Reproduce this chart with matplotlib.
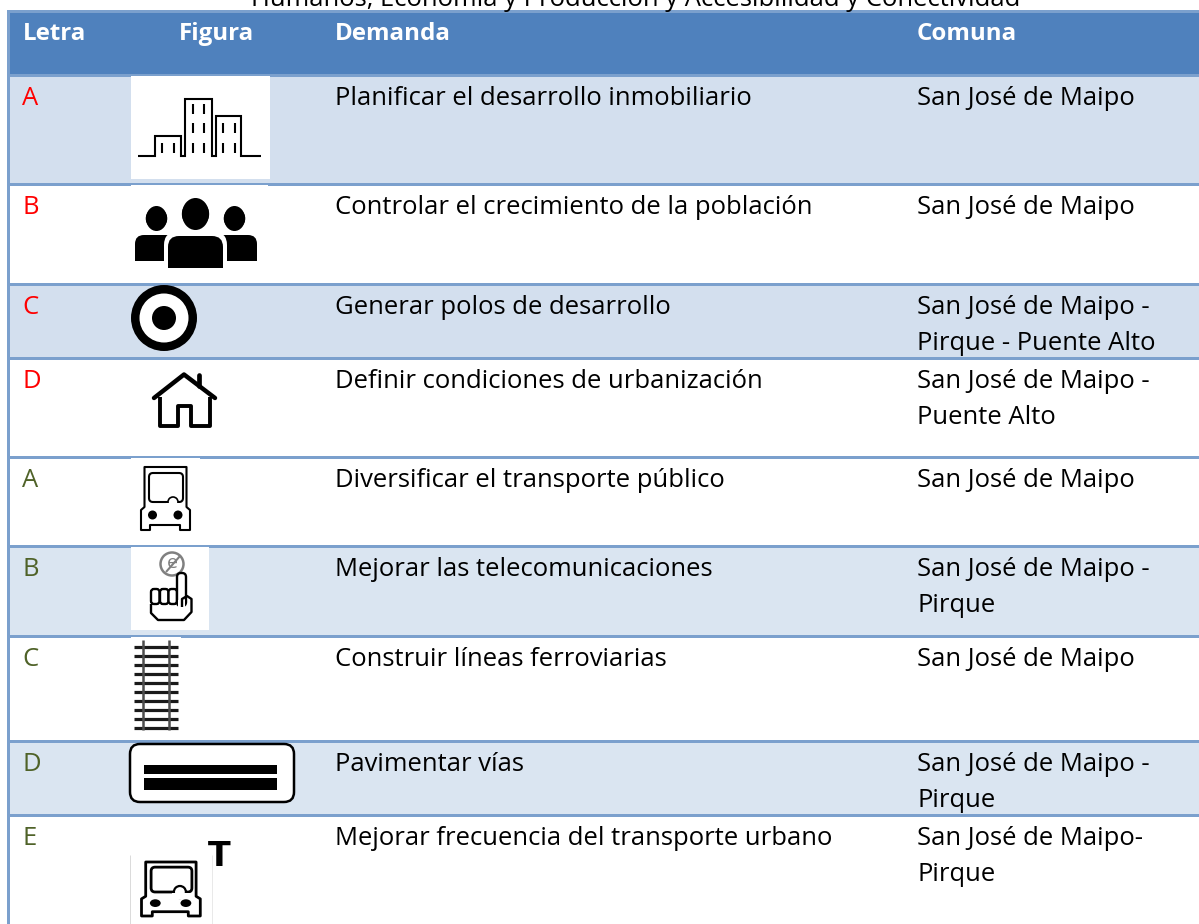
import matplotlib
matplotlib.use("Agg")
import matplotlib.pyplot as plt
from matplotlib.patches import Rectangle, Circle, Ellipse, FancyBboxPatch, Polygon

title = "Humanos, Economía y Producción y Accesibilidad y Conectividad"
headers = ["Letra", "Figura", "Demanda", "Comuna"]
letters = ["A", "B", "C", "D", "A", "B", "C", "D", "E"]
letter_colors = ["#FF0000"] * 4 + ["#4F6228"] * 5
demands = ["Planificar el desarrollo inmobiliario",
           "Controlar el crecimiento de la población",
           "Generar polos de desarrollo",
           "Definir condiciones de urbanización",
           "Diversificar el transporte público",
           "Mejorar las telecomunicaciones",
           "Construir líneas ferroviarias",
           "Pavimentar vías",
           "Mejorar frecuencia del transporte urbano"]
communes = ["San José de Maipo",
            "San José de Maipo",
            "San José de Maipo -\nPirque - Puente Alto",
            "San José de Maipo -\nPuente Alto",
            "San José de Maipo",
            "San José de Maipo -\nPirque",
            "San José de Maipo",
            "San José de Maipo -\nPirque",
            "San José de Maipo-\nPirque"]
row_tops = [77, 186, 286, 360, 459, 548, 638, 743, 817]
row_bottoms = [183, 283, 357, 456, 545, 635, 740, 814, 924]
band_colors = ["#D3DFEE", None, "#D3DFEE", None, None, "#DAE5F1", None, "#DAE5F1", None]

FONT = "Open Sans"
FS = 18.45
FS_HEAD = 17.4
LINE = "#7BA0CD"
HEAD = "#4F81BD"
K = "#000000"

fig = plt.figure(figsize=(11.99, 9.24), dpi=100, facecolor="white")
ax = fig.add_axes([0, 0, 1, 1])
ax.set_xlim(0, 1199)
ax.set_ylim(924, 0)
ax.axis("off")


def rect(x0, y0, x1, y1, fc, z=1, ec="none", lw=0):
    ax.add_patch(Rectangle((x0, y0), x1 - x0, y1 - y0, fc=fc, ec=ec, lw=lw, zorder=z))


def rbox(x0, y0, x1, y1, r, fc="none", ec=K, lw=1.5, z=4):
    ax.add_patch(FancyBboxPatch((x0 + r, y0 + r), x1 - x0 - 2 * r, y1 - y0 - 2 * r,
                                boxstyle=f"round,pad={r},rounding_size={r}",
                                fc=fc, ec=ec, lw=lw, zorder=z))


def line(xs, ys, lw=1.5, c=K, z=4, cap="butt", join="miter"):
    ax.plot(xs, ys, color=c, lw=lw, zorder=z, solid_capstyle=cap, solid_joinstyle=join)


# table structure
rect(7, 10, 1199, 924, "white", 0)
rect(10, 13, 1199, 74, HEAD, 1)
for top, bot, band in zip(row_tops, row_bottoms, band_colors):
    if band:
        rect(10, top, 1199, bot, band, 1)
rect(7, 10, 1199, 13, LINE, 2)
rect(7, 10, 10, 924, LINE, 2)
rect(10, 74, 1199, 77, LINE, 2)
for bot in row_bottoms[:-1]:
    rect(10, bot, 1199, bot + 3, LINE, 2)

# text
ax.text(636, 6, title, fontsize=FS, family=FONT, ha="center", va="baseline", color="black", zorder=6)
for x, h in zip([23, 179, 335, 917], headers):
    ax.text(x, 40.5, h, fontsize=FS_HEAD, family=FONT, weight="bold", color="white",
            ha="left", va="baseline", zorder=6)
LH = 36
for top, let, col, dem, com in zip(row_tops, letters, letter_colors, demands, communes):
    base = top + 27.6
    ax.text(22.5, base, let, fontsize=FS, family=FONT, color=col, ha="left", va="baseline", zorder=6)
    ax.text(335, base, dem, fontsize=FS, family=FONT, color="black", ha="left", va="baseline", zorder=6)
    for i, part in enumerate(com.split("\n")):
        ax.text(917, base + i * LH, part, fontsize=FS, family=FONT, color="black",
                ha="left", va="baseline", zorder=6)

# icon: city
rect(131, 76, 270, 179, "white", 3)
line([138, 155, 155, 181, 181, 185, 185, 212, 212, 216, 216, 241, 241, 261],
     [156, 156, 136, 136, 156, 156, 98.5, 98.5, 156, 156, 116, 116, 156, 156], lw=1.5)
for wx, y0s in [(162, [143]), (174, [143]), (193, [104, 123, 143]), (204, [104, 123, 143]),
                (222.5, [123, 143]), (234.5, [123, 143])]:
    for y0 in y0s:
        line([wx, wx], [y0, y0 + 10], lw=1.5)

# icon: people
rect(131, 185, 268, 283, "white", 3)
for cx, cy, w, h in [(156.5, 218.5, 21, 25), (234.5, 218.5, 21, 25), (195.5, 214, 27, 32)]:
    ax.add_patch(Ellipse((cx, cy), w, h, fc=K, ec="none", zorder=4))
    ax.add_patch(Ellipse((cx, cy), w * 0.96, h * 0.8, fc=K, ec=K, lw=1, zorder=4))
for x0, x1 in [(135, 175), (216, 257)]:
    rbox(x0, 235, x1, 261, 9, fc=K, ec="none", lw=0)
    rect(x0, 246, x1, 261, K, 4)
rbox(164, 232, 227, 262, 13, fc="white", ec="none", lw=0, z=4.3)
rect(164, 245, 227, 270, "white", 4.3)
rbox(168, 236, 223, 268, 11, fc=K, ec="none", lw=0, z=4.4)
rect(168, 250, 223, 268, K, 4.4)

# icon: target
ax.add_patch(Circle((164, 318), 33, fc=K, ec="none", zorder=4))
ax.add_patch(Circle((164, 318), 24.5, fc="white", ec="none", zorder=4.1))
ax.add_patch(Circle((164, 318), 12, fc=K, ec="none", zorder=4.2))

# icon: house
line([199, 199], [375, 386], lw=3.4, cap="round")
line([154, 184, 215], [398, 374.5, 398], lw=3.2, cap="round", join="round")
line([159.5, 159.5, 177.5, 177.5, 191, 191, 210, 210],
     [397, 426, 426, 406, 406, 426, 426, 397], lw=2.8, join="round")


# icon: bus (drawn from a base outline, then scaled)
BUS_X = [144.5, 186.5, 186.5, 190, 190, 180, 180, 150, 150, 141, 141, 144.5]
BUS_Y = [467, 467, 507, 510, 530, 530, 525, 525, 530, 530, 510, 507]


def bus(ox, oy, sx, sy, lw):
    tx = lambda x: ox + (x - 141) * sx
    ty = lambda y: oy + (y - 467) * sy
    ax.add_patch(Polygon([(tx(x), ty(y)) for x, y in zip(BUS_X, BUS_Y)], closed=True,
                         fc="white", ec=K, lw=lw, joinstyle="round", zorder=4))
    rbox(tx(149), ty(473), tx(183), ty(502), 4, fc="white", lw=lw, z=4.1)
    ax.add_patch(Circle((tx(173), ty(502)), 5 * sx, fc="white", ec=K, lw=lw * 0.8, zorder=4.2))
    rect(tx(166), ty(502) + 1, tx(181), ty(510), "white", 4.3)
    for wx in (152.5, 178):
        ax.add_patch(Ellipse((tx(wx), ty(515)), 9 * sx, 9 * sy, fc=K, ec="none", zorder=4.5))


rect(131, 458, 200, 545, "white", 3)
bus(141, 467, 1.0, 1.0, 1.5)

# icon: finger
rect(131, 547, 209, 630, "white", 3)
ax.add_patch(Circle((172, 564), 11.5, fc="white", ec="#808080", lw=1.8, zorder=4))
ax.text(172, 563, "e", fontsize=14, family=FONT, color="#808080", ha="center", va="center", zorder=4.1)
line([166, 180], [572, 556], lw=1.5, c="#808080", z=4.2)
for fx in [151, 160, 168.5]:
    rbox(fx, 589, fx + 8.5, 604, 3, fc="white", lw=1.7, z=4.4)
rbox(177, 573, 186, 606, 4, fc="white", lw=1.7, z=4.4)
rect(178, 600, 185, 608, "white", 4.45)
line([151, 151, 158, 184, 191.5, 191.5, 187, 182, 182],
     [604, 613, 620, 620, 612, 599, 596, 599, 607], lw=1.7, join="round", z=4.5)

# icon: rails
rect(131, 637, 181, 730, "white", 3)
for y in [646.5, 655.5, 664.5, 673.5, 682.5, 691.5, 700.5, 709.5, 718.5, 727.5]:
    line([134, 178], [y, y], lw=2.3, c="#1a1a1a")
for x in [143, 169]:
    line([x, x], [640, 730], lw=1.8, c="#4d4d4d", z=4.1)

# icon: road
rbox(130, 744, 294, 802, 10, fc="white", lw=1.8)
rect(144, 765, 277, 774, K, 4.1)
rect(144, 778, 277, 790, K, 4.1)

# icon: urban bus with T
rect(129, 855, 211, 924, "white", 3)
line([129.5, 129.5], [855, 924], lw=0.5, c="#cccccc", z=3.1)
line([211.5, 211.5], [855, 924], lw=0.5, c="#e0e0e0", z=3.1)
bus(141.5, 862, 1.2, 0.857, 2.0)
ax.text(219.5, 865.5, "T", fontsize=24, family="DejaVu Sans", weight="bold", color=K,
        ha="center", va="baseline", zorder=6)

fig.savefig("out.png", dpi=100, facecolor="white")
